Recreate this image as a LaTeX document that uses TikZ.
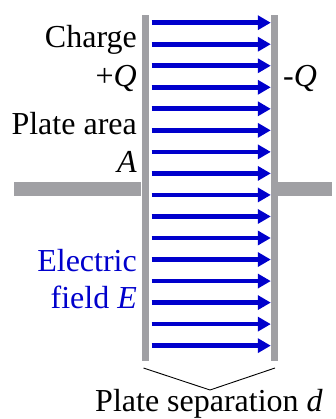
\documentclass[tikz,border=0pt]{standalone}
\usepackage{fontspec}
\setmainfont{LiberationSerif}[Extension=.ttf,UprightFont=*-Regular,ItalicFont=*-Italic,BoldFont=*-Bold]
\usetikzlibrary{arrows.meta}
\definecolor{feldblau}{RGB}{0,0,204}
\definecolor{plattengrau}{RGB}{160,160,164}

\begin{document}
\begin{tikzpicture}[x=1pt,y=-1pt,
        platte/.style={fill=plattengrau,minimum width=7pt,minimum height=346pt,inner sep=0pt},
        draht/.style={fill=plattengrau,minimum height=14pt,inner sep=0pt},
        etikett/.style={inner sep=0pt,font=\rmfamily\fontsize{32}{38}\selectfont},
        feld/.style={-{Triangle[length=13pt,width=14pt]},line width=4.7pt,feldblau,shorten <=3pt},
        klammer/.style={black,line width=0.9pt}]
      \useasboundingbox (0,0) rectangle (335,419);
      \node[platte] (lp) at (145,188) {};
      \node[platte] (rp) at (274.5,188) {};
      \node[draht,anchor=east,minimum width=127pt] (lw) at (lp.west |- 0,189) {};
      \node[draht,anchor=west,minimum width=54pt] (rw) at (rp.east |- 0,189) {};
      \foreach \i in {0,...,15}{
        \pgfmathsetmacro\yy{22.7+21.53*\i}
        \draw[feld] (lp.east |- 0,\yy) -- (rp.west |- 0,\yy);}
      \node[etikett,anchor=base east] (charge) at (137,48) {Charge};
      \node[etikett,anchor=base east] (plusq) at (137,87) {+\textit{Q}};
      \node[etikett,anchor=base west] (minusq) at (283,87) {-\textit{Q}};
      \node[etikett,anchor=base east] (area) at (137,135) {Plate area};
      \node[etikett,anchor=base east] (flaeche) at (137,173) {\textit{A}};
      \node[etikett,anchor=base east,text=feldblau] (electric) at (137,271) {Electric};
      \node[etikett,anchor=base east,text=feldblau] (feldE) at (137,308) {field \textit{E}};
      \coordinate (kl) at (143.5,368);
      \coordinate (km) at (210,390);
      \coordinate (kr) at (275,368);
      \draw[klammer] (kl) -- (km) -- (kr);
      \node[etikett,anchor=base] (sep) at (209,411) {Plate separation \textit{d}};
    \end{tikzpicture}
\end{document}
